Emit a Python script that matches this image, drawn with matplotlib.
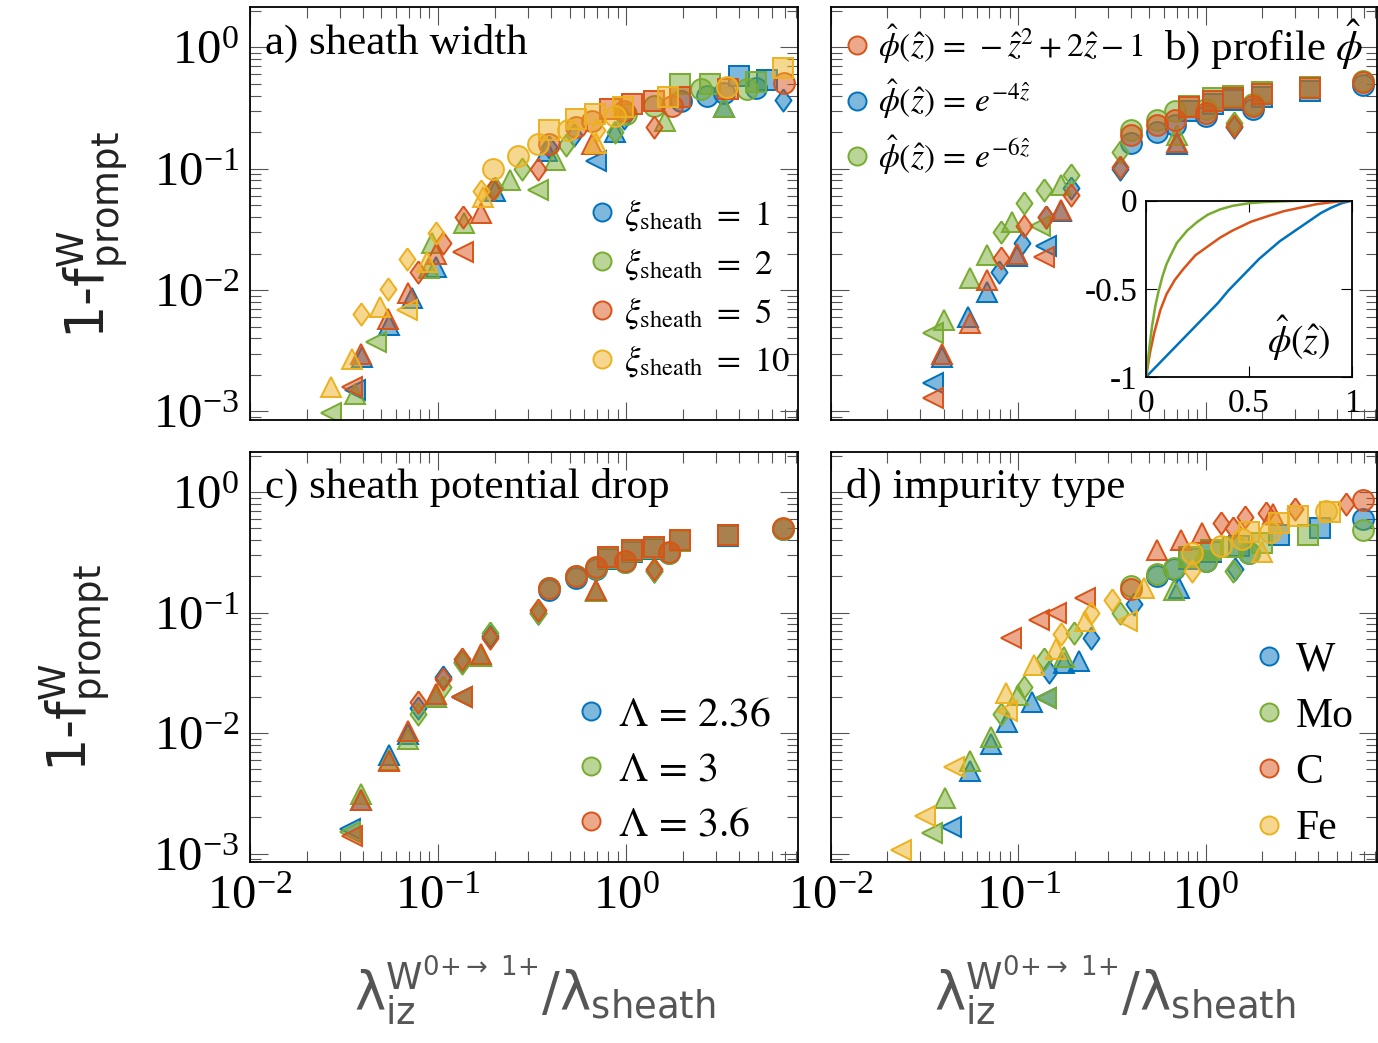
import matplotlib
matplotlib.use('Agg')
import matplotlib.pyplot as plt
from matplotlib.lines import Line2D
from matplotlib.colors import to_rgba

plt.rcParams['font.family'] = ['Liberation Serif', 'DejaVu Serif']
plt.rcParams['mathtext.fontset'] = 'stix'

BLUE, ORANGE, YELLOW, GREEN = '#0072BD', '#D95319', '#EDB120', '#77AC30'

# (marker, x, y)
# a) sheath width
A_XI1 = [('<', 0.036, 0.0015), ('<', 0.69, 0.115),
         ('^', 0.0395, 0.0028), ('^', 0.055, 0.0052), ('^', 0.073, 0.0086), ('^', 0.098, 0.0155),
         ('^', 0.20, 0.066), ('^', 0.38, 0.14), ('^', 0.87, 0.20), ('^', 3.3, 0.32),
         ('d', 0.39, 0.15), ('d', 0.53, 0.19), ('d', 0.98, 0.26), ('d', 6.8, 0.37),
         ('o', 1.95, 0.36), ('o', 2.7, 0.40), ('o', 3.3, 0.42), ('o', 4.9, 0.46),
         ('s', 4.0, 0.58), ('s', 5.6, 0.54)]
A_XI2 = [('<', 0.027, 0.00097), ('<', 0.047, 0.0037), ('<', 0.34, 0.067),
         ('^', 0.036, 0.0014), ('^', 0.089, 0.0152), ('^', 0.093, 0.0245), ('^', 0.137, 0.036),
         ('^', 0.24, 0.081), ('^', 0.42, 0.119), ('^', 1.6, 0.245), ('^', 3.3, 0.32),
         ('d', 0.20, 0.07), ('d', 0.28, 0.10), ('d', 0.48, 0.157), ('d', 0.87, 0.20),
         ('o', 1.0, 0.28), ('o', 1.4, 0.33), ('o', 2.5, 0.45), ('o', 4.4, 0.45),
         ('s', 1.94, 0.50), ('s', 2.8, 0.50), ('s', 4.9, 0.52)]
A_XI5 = [('<', 0.035, 0.0016), ('<', 0.135, 0.0207),
         ('^', 0.039, 0.0030), ('^', 0.054, 0.0058), ('^', 0.069, 0.0095), ('^', 0.098, 0.020),
         ('^', 0.17, 0.043), ('^', 0.66, 0.16),
         ('d', 0.078, 0.0141), ('d', 0.106, 0.0245), ('d', 0.135, 0.040), ('d', 0.196, 0.068),
         ('d', 0.34, 0.10), ('d', 1.4, 0.22),
         ('o', 0.39, 0.16), ('o', 0.54, 0.22), ('o', 0.66, 0.245), ('o', 0.98, 0.30),
         ('o', 1.75, 0.33), ('o', 6.9, 0.51),
         ('s', 0.82, 0.31), ('s', 1.08, 0.34), ('s', 1.4, 0.36), ('s', 1.94, 0.39), ('s', 3.5, 0.45)]
A_XI10 = [('<', 0.068, 0.0069),
          ('^', 0.027, 0.0016), ('^', 0.035, 0.0027), ('^', 0.049, 0.0073), ('^', 0.087, 0.0171),
          ('^', 0.173, 0.059), ('^', 0.69, 0.164),
          ('d', 0.039, 0.0063), ('d', 0.054, 0.0103), ('d', 0.068, 0.0179), ('d', 0.098, 0.0294),
          ('d', 0.17, 0.065), ('d', 0.70, 0.21),
          ('o', 0.197, 0.10), ('o', 0.267, 0.128), ('o', 0.34, 0.16), ('o', 0.49, 0.21),
          ('o', 0.875, 0.27), ('o', 3.45, 0.47),
          ('s', 0.39, 0.21), ('s', 0.54, 0.255), ('s', 0.68, 0.28), ('s', 0.96, 0.325),
          ('s', 1.67, 0.39), ('s', 6.8, 0.68)]

# b) profile
B_QUAD = [('<', 0.035, 0.0013), ('<', 0.137, 0.0187),
          ('^', 0.039, 0.0030), ('^', 0.055, 0.0054), ('^', 0.068, 0.0121), ('^', 0.098, 0.020),
          ('^', 0.17, 0.046), ('^', 0.70, 0.165),
          ('d', 0.081, 0.0184), ('d', 0.107, 0.034), ('d', 0.14, 0.040), ('d', 0.19, 0.061),
          ('d', 0.35, 0.103), ('d', 1.42, 0.225),
          ('o', 0.40, 0.19), ('o', 0.55, 0.23), ('o', 0.69, 0.25), ('o', 1.0, 0.29),
          ('o', 1.78, 0.33), ('o', 6.9, 0.52),
          ('s', 0.81, 0.32), ('s', 1.1, 0.36), ('s', 1.4, 0.38), ('s', 2.0, 0.41), ('s', 3.6, 0.46)]
B_EXP4 = [('<', 0.035, 0.0017), ('<', 0.14, 0.023),
          ('^', 0.039, 0.0028), ('^', 0.054, 0.0060), ('^', 0.068, 0.0096), ('^', 0.098, 0.019),
          ('^', 0.17, 0.045), ('^', 0.70, 0.16),
          ('d', 0.079, 0.0141), ('d', 0.105, 0.0245), ('d', 0.14, 0.040), ('d', 0.19, 0.070),
          ('d', 0.35, 0.10), ('d', 1.42, 0.22),
          ('o', 0.40, 0.164), ('o', 0.55, 0.20), ('o', 0.69, 0.23), ('o', 1.0, 0.27),
          ('o', 1.78, 0.31), ('o', 6.9, 0.49),
          ('s', 0.81, 0.30), ('s', 1.1, 0.34), ('s', 1.4, 0.37), ('s', 2.0, 0.39), ('s', 3.6, 0.44)]
B_EXP6 = [('<', 0.035, 0.0044), ('<', 0.13, 0.034),
          ('^', 0.040, 0.0057), ('^', 0.055, 0.0125), ('^', 0.068, 0.0195), ('^', 0.093, 0.0365),
          ('^', 0.17, 0.074), ('^', 0.70, 0.19),
          ('d', 0.081, 0.030), ('d', 0.107, 0.052), ('d', 0.137, 0.067), ('d', 0.19, 0.088),
          ('d', 0.35, 0.137), ('d', 1.42, 0.24),
          ('o', 0.40, 0.21), ('o', 0.55, 0.25), ('o', 0.69, 0.30), ('o', 1.0, 0.31),
          ('o', 1.78, 0.34), ('o', 6.9, 0.53),
          ('s', 0.81, 0.33), ('s', 1.1, 0.38), ('s', 1.4, 0.40), ('s', 2.0, 0.43), ('s', 3.6, 0.47)]

# inset: phi(z) curves, read point by point
INSET_Z_BLUE = [0, 0.05, 0.10, 0.15, 0.20, 0.25, 0.30, 0.35, 0.40, 0.45, 0.50,
                0.55, 0.60, 0.65, 0.70, 0.75, 0.80, 0.85, 0.90, 0.95, 1.0]
INSET_P_BLUE = [-1, -0.94, -0.88, -0.82, -0.76, -0.70, -0.64, -0.58, -0.51, -0.45, -0.39,
                -0.33, -0.28, -0.23, -0.19, -0.15, -0.11, -0.07, -0.04, -0.015, 0]
INSET_Z_ORANGE = [0, 0.01, 0.02, 0.04, 0.07, 0.10, 0.14, 0.18, 0.24, 0.30, 0.36, 0.42,
                  0.51, 0.60, 0.67, 0.75, 0.83, 0.92, 1.0]
INSET_P_ORANGE = [-1, -0.93, -0.86, -0.75, -0.62, -0.53, -0.45, -0.39, -0.31, -0.26, -0.21,
                  -0.17, -0.12, -0.085, -0.06, -0.04, -0.02, -0.007, 0]
INSET_Z_GREEN = [0, 0.01, 0.02, 0.03, 0.045, 0.06, 0.08, 0.10, 0.12, 0.15, 0.20, 0.25,
                 0.30, 0.36, 0.42, 0.50, 0.58, 0.70, 0.80, 1.0]
INSET_P_GREEN = [-1, -0.90, -0.80, -0.71, -0.60, -0.52, -0.43, -0.36, -0.31, -0.24, -0.17,
                 -0.12, -0.08, -0.05, -0.03, -0.015, -0.008, -0.003, 0, 0]

# c) sheath potential drop
C_236 = [('<', 0.034, 0.0016), ('<', 0.134, 0.020),
         ('^', 0.039, 0.0028), ('^', 0.055, 0.0066), ('^', 0.069, 0.0098), ('^', 0.097, 0.020),
         ('^', 0.17, 0.044), ('^', 0.69, 0.15),
         ('d', 0.078, 0.016), ('d', 0.106, 0.029), ('d', 0.134, 0.039), ('d', 0.19, 0.064),
         ('d', 0.34, 0.10), ('d', 1.4, 0.22),
         ('o', 0.39, 0.155), ('o', 0.54, 0.195), ('o', 0.69, 0.23), ('o', 0.99, 0.265),
         ('o', 1.7, 0.31), ('o', 6.8, 0.49),
         ('s', 0.80, 0.28), ('s', 1.07, 0.32), ('s', 1.4, 0.34), ('s', 1.94, 0.39), ('s', 3.5, 0.43)]
C_3 = [('<', 0.034, 0.0015), ('<', 0.134, 0.020),
       ('^', 0.039, 0.0031), ('^', 0.055, 0.0060), ('^', 0.069, 0.0089), ('^', 0.097, 0.020),
       ('^', 0.17, 0.044), ('^', 0.69, 0.15),
       ('d', 0.078, 0.0143), ('d', 0.106, 0.024), ('d', 0.134, 0.038), ('d', 0.19, 0.068),
       ('d', 0.34, 0.10), ('d', 1.4, 0.22),
       ('o', 0.39, 0.16), ('o', 0.54, 0.20), ('o', 0.69, 0.235), ('o', 0.99, 0.265),
       ('o', 1.7, 0.31), ('o', 6.8, 0.49),
       ('s', 0.80, 0.285), ('s', 1.07, 0.325), ('s', 1.4, 0.345), ('s', 1.94, 0.39), ('s', 3.5, 0.44)]
C_36 = [('<', 0.035, 0.0014), ('<', 0.134, 0.020),
        ('^', 0.039, 0.0028), ('^', 0.055, 0.0059), ('^', 0.069, 0.0105), ('^', 0.097, 0.021),
        ('^', 0.17, 0.045), ('^', 0.69, 0.155),
        ('d', 0.078, 0.018), ('d', 0.106, 0.028), ('d', 0.134, 0.041), ('d', 0.19, 0.062),
        ('d', 0.34, 0.105), ('d', 1.4, 0.23),
        ('o', 0.39, 0.16), ('o', 0.54, 0.20), ('o', 0.69, 0.24), ('o', 0.99, 0.27),
        ('o', 1.7, 0.32), ('o', 6.8, 0.50),
        ('s', 0.80, 0.29), ('s', 1.07, 0.33), ('s', 1.4, 0.35), ('s', 1.94, 0.40), ('s', 3.5, 0.44)]

# d) impurity type
D_W = [('<', 0.044, 0.00165), ('<', 0.14, 0.0196),
       ('^', 0.055, 0.0048), ('^', 0.0714, 0.0081), ('^', 0.0875, 0.0123), ('^', 0.119, 0.018),
       ('^', 0.175, 0.038), ('^', 0.21, 0.040), ('^', 0.72, 0.16),
       ('d', 0.146, 0.032), ('d', 0.243, 0.062), ('d', 0.415, 0.118), ('d', 1.44, 0.23),
       ('o', 0.55, 0.20), ('o', 0.68, 0.23), ('o', 1.0, 0.27), ('o', 1.7, 0.31), ('o', 6.9, 0.60),
       ('s', 0.81, 0.28), ('s', 1.07, 0.32), ('s', 1.5, 0.36), ('s', 2.45, 0.44), ('s', 4.1, 0.50)]
D_MO = [('<', 0.0348, 0.00148), ('<', 0.14, 0.0196),
        ('^', 0.0404, 0.0029), ('^', 0.055, 0.0059), ('^', 0.0714, 0.0092), ('^', 0.10, 0.0207),
        ('^', 0.175, 0.043), ('^', 0.68, 0.155),
        ('d', 0.081, 0.0144), ('d', 0.107, 0.024), ('d', 0.137, 0.041), ('d', 0.198, 0.068),
        ('d', 0.35, 0.10), ('d', 1.4, 0.22),
        ('o', 0.40, 0.165), ('o', 0.55, 0.21), ('o', 0.68, 0.235), ('o', 1.0, 0.27),
        ('o', 1.7, 0.31), ('o', 6.9, 0.48),
        ('s', 0.81, 0.29), ('s', 1.07, 0.33), ('s', 1.4, 0.35), ('s', 2.0, 0.38), ('s', 3.5, 0.44)]
D_C = [('<', 0.091, 0.062), ('<', 0.129, 0.087), ('<', 0.159, 0.10), ('<', 0.228, 0.132),
       ('^', 0.55, 0.33), ('^', 0.74, 0.40), ('^', 0.95, 0.456), ('^', 2.3, 0.66),
       ('d', 1.2, 0.55), ('d', 1.4, 0.50), ('d', 1.62, 0.625), ('d', 2.1, 0.67),
       ('d', 3.0, 0.73), ('d', 5.6, 0.80),
       ('o', 0.40, 0.157), ('o', 6.9, 0.86)]
D_FE = [('<', 0.0238, 0.00108), ('<', 0.0316, 0.00206), ('<', 0.0456, 0.0052),
        ('<', 0.0875, 0.0152), ('<', 0.38, 0.085),
        ('^', 0.086, 0.0214), ('^', 0.122, 0.037), ('^', 0.159, 0.050), ('^', 0.228, 0.085),
        ('^', 0.47, 0.16), ('^', 2.0, 0.32),
        ('d', 0.168, 0.066), ('d', 0.243, 0.10), ('d', 0.316, 0.128), ('d', 0.85, 0.22),
        ('o', 0.85, 0.31), ('o', 1.2, 0.36), ('o', 1.56, 0.41), ('o', 2.2, 0.47), ('o', 4.4, 0.70),
        ('s', 1.7, 0.47), ('s', 2.45, 0.55), ('s', 3.1, 0.63), ('s', 4.6, 0.68)]

DIAMOND = [(0, 1), (0.72, 0), (0, -1), (-0.72, 0), (0, 1)]
MARKERS = {'<': ('<', 15), '^': ('^', 15), 'd': (DIAMOND, 16), 'o': ('o', 15), 's': ('s', 14.5)}


def scatter(ax, pts, color):
    for key, (m, ms) in MARKERS.items():
        xs = [p[1] for p in pts if p[0] == key]
        ys = [p[2] for p in pts if p[0] == key]
        if xs:
            ax.plot(xs, ys, ls='none', marker=m, ms=ms, mfc=to_rgba(color, 0.5),
                    mec=color, mew=1.4)


def setup(ax, xlab, ylab):
    ax.set_xscale('log')
    ax.set_yscale('log')
    ax.set_xlim(0.01, 8.2)
    ax.set_ylim(8.5e-4, 2.15)
    ax.tick_params(which='both', direction='in', top=True, right=True, width=0.8,
                   color='#555555', labelsize=35)
    ax.tick_params(which='major', length=13)
    ax.tick_params(which='minor', length=8)
    ax.tick_params(axis='x', pad=9, labelbottom=xlab)
    ax.tick_params(axis='y', pad=8, labelleft=ylab)
    for s in ax.spines.values():
        s.set_linewidth(1.3)


def legend(ax, colors, labels, anchor, fs, spacing):
    handles = [Line2D([], [], ls='none', marker='o', ms=13, mfc=to_rgba(c, 0.5), mec=c, mew=1.4)
               for c in colors]
    ax.legend(handles, labels, loc='upper left', bbox_to_anchor=anchor, frameon=False,
              fontsize=fs, handlelength=0.7, handletextpad=0.3, labelspacing=spacing,
              borderpad=0, borderaxespad=0)


fig = plt.figure(figsize=(13.78, 10.43), dpi=100)
ax_a = fig.add_axes([0.1814, 0.5973, 0.3977, 0.3960])
ax_b = fig.add_axes([0.6030, 0.5973, 0.3962, 0.3960])
ax_c = fig.add_axes([0.1814, 0.1735, 0.3977, 0.3931])
ax_d = fig.add_axes([0.6030, 0.1735, 0.3962, 0.3931])

setup(ax_a, False, True)
setup(ax_b, False, False)
setup(ax_c, True, True)
setup(ax_d, True, False)

for pts, c in [(A_XI1, BLUE), (A_XI2, GREEN), (A_XI5, ORANGE), (A_XI10, YELLOW)]:
    scatter(ax_a, pts, c)
for pts, c in [(B_EXP4, BLUE), (B_EXP6, GREEN), (B_QUAD, ORANGE)]:
    scatter(ax_b, pts, c)
for pts, c in [(C_236, BLUE), (C_3, GREEN), (C_36, ORANGE)]:
    scatter(ax_c, pts, c)
for pts, c in [(D_W, BLUE), (D_MO, GREEN), (D_C, ORANGE), (D_FE, YELLOW)]:
    scatter(ax_d, pts, c)

ax_a.text(0.027, 0.96, 'a) sheath width', transform=ax_a.transAxes, fontsize=31, va='top')
ax_b.text(0.975, 0.975, r'b) profile $\hat{\phi}$', transform=ax_b.transAxes, fontsize=31,
          va='top', ha='right')
ax_c.text(0.027, 0.96, 'c) sheath potential drop', transform=ax_c.transAxes, fontsize=31, va='top')
ax_d.text(0.027, 0.96, 'd) impurity type', transform=ax_d.transAxes, fontsize=31, va='top')

legend(ax_a, [BLUE, GREEN, ORANGE, YELLOW],
       [r'$\xi_{\mathrm{sheath}}\ =\ 1$', r'$\xi_{\mathrm{sheath}}\ =\ 2$',
        r'$\xi_{\mathrm{sheath}}\ =\ 5$', r'$\xi_{\mathrm{sheath}}\ =\ 10$'],
       (0.62, 0.54), 25, 0.38)
legend(ax_b, [ORANGE, BLUE, GREEN],
       [r'$\hat{\phi}(\hat{z})\,=\,-\hat{z}^2+2\hat{z}-1$',
        r'$\hat{\phi}(\hat{z})\,=\,e^{-4\hat{z}}$',
        r'$\hat{\phi}(\hat{z})\,=\,e^{-6\hat{z}}$'],
       (0.026, 0.964), 24, 0.36)
legend(ax_c, [BLUE, GREEN, ORANGE],
       [r'$\Lambda\,=\,2.36$', r'$\Lambda\,=\,3$', r'$\Lambda\,=\,3.6$'],
       (0.595, 0.405), 30, 0.40)
legend(ax_d, [BLUE, GREEN, ORANGE, YELLOW], ['W', 'Mo', 'C', 'Fe'],
       (0.775, 0.54), 30, 0.43)

ylab = r'1-f$^{\mathrm{W}}_{\mathrm{prompt}}$'
for ax, xy in [(ax_a, (-0.219, 0.448)), (ax_c, (-0.252, 0.473))]:
    ax.set_ylabel(ylab, fontsize=38, family='DejaVu Sans', math_fontfamily='dejavusans',
                  color='#222222')
    ax.yaxis.set_label_coords(*xy)

xlab = (r'$\mathrm{\lambda}_{\mathrm{iz}}^{\mathrm{W}^{0{+}\rightarrow\ 1{+}}}'
        r'/\mathrm{\lambda}_{\mathrm{sheath}}$')
for ax in [ax_c, ax_d]:
    ax.set_xlabel(xlab, fontsize=38, family='DejaVu Sans', math_fontfamily='dejavusans',
                  color='#555555')
    ax.xaxis.set_label_coords(0.52, -0.225)

# inset of the profiles
ins = fig.add_axes([0.8316, 0.6385, 0.1495, 0.1692])
ins.plot(INSET_Z_BLUE, INSET_P_BLUE, color=BLUE, lw=1.8)
ins.plot(INSET_Z_ORANGE, INSET_P_ORANGE, color=ORANGE, lw=1.8)
ins.plot(INSET_Z_GREEN, INSET_P_GREEN, color=GREEN, lw=1.8)
ins.set_xlim(0, 1)
ins.set_ylim(-1, 0)
ins.set_xticks([0, 0.5, 1])
ins.set_xticklabels(['0', '0.5', '1'])
ins.set_yticks([0, -0.5, -1])
ins.set_yticklabels(['0', '-0.5', '-1'])
ins.tick_params(direction='in', top=True, right=True, length=8, width=0.8, labelsize=24)
ins.tick_params(axis='x', pad=8)
ins.tick_params(axis='y', pad=6)
for s in ins.spines.values():
    s.set_linewidth(1.3)
ins.text(0.74, 0.22, r'$\hat{\phi}(\hat{z})$', transform=ins.transAxes, fontsize=27,
         ha='center', va='center')

fig.savefig('out.png', dpi=100)
